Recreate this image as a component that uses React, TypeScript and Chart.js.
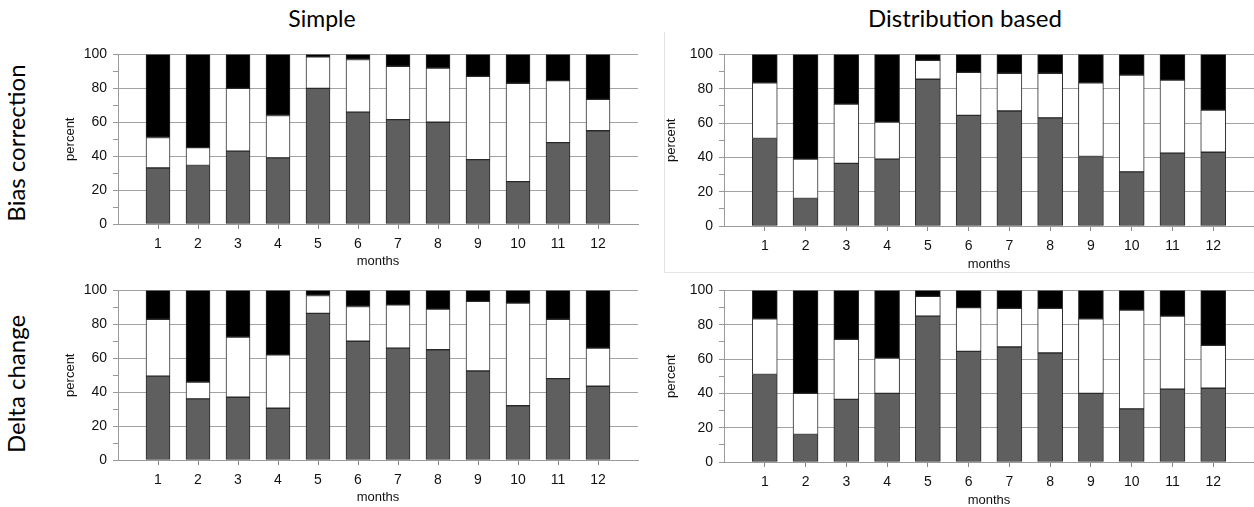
import React, { useEffect, useRef } from 'react';
import { Chart, registerables } from 'chart.js';

Chart.register(...registerables);

// ---- data (percent of months per class) ----
const months = [1, 2, 3, 4, 5, 6, 7, 8, 9, 10, 11, 12];
const percentTicks = [0, 20, 40, 60, 80, 100];

// Simple / Bias correction
const simpleBiasLow = [33, 34.5, 43, 39, 80, 66, 61.5, 60, 38, 25, 48, 55];
const simpleBiasMid = [18, 10.5, 37, 25, 18.5, 31, 31.5, 32, 49, 58, 36.5, 18.5];
const simpleBiasHigh = [49, 55, 20, 36, 1.5, 3, 7, 8, 13, 17, 15.5, 26.5];

// Distribution based / Bias correction
const distBiasLow = [51, 16, 36.5, 39, 85.5, 64.5, 67, 63, 40.5, 31.5, 42.5, 43];
const distBiasMid = [32.5, 23, 34.5, 21.5, 11, 25, 22, 26, 43, 56.5, 42.5, 24.5];
const distBiasHigh = [16.5, 61, 29, 39.5, 3.5, 10.5, 11, 11, 16.5, 12, 15, 32.5];

// Simple / Delta change
const simpleDeltaLow = [49.5, 36, 37, 30.5, 86.5, 70, 66, 65, 52.5, 32, 48, 43.5];
const simpleDeltaMid = [33.5, 10, 35.5, 31.5, 10.5, 20.5, 25.5, 24, 41, 60.5, 35, 22.5];
const simpleDeltaHigh = [17, 54, 27.5, 38, 3, 9.5, 8.5, 11, 6.5, 7.5, 17, 34];

// Distribution based / Delta change
const distDeltaLow = [51, 16, 36.5, 40, 85, 64.5, 67, 63.5, 40, 31, 42.5, 43];
const distDeltaMid = [32.5, 24, 35, 20.5, 11.5, 25.5, 22.5, 26, 43.5, 57.5, 42.5, 25];
const distDeltaHigh = [16.5, 60, 28.5, 39.5, 3.5, 10, 10.5, 10.5, 16.5, 11.5, 15, 32];

const AXIS_FONT = '"Liberation Sans", Arial, Helvetica, sans-serif';
const LABEL_FONT = 'Lato, "Open Sans", sans-serif';

type PanelProps = {
  left: number;
  top: number;
  width: number;
  height: number;
  padTop: number;
  padRight: number;
  yWidth: number;
  xHeight: number;
  barThickness: number;
  low: number[];
  mid: number[];
  high: number[];
};

function Panel(p: PanelProps) {
  const ref = useRef<HTMLCanvasElement | null>(null);

  useEffect(() => {
    if (!ref.current) return;
    const toPts = (arr: number[]) => months.map((m, i) => ({ x: m, y: arr[i] }));
    const common = {
      borderColor: '#2a2a2a',
      borderWidth: 1,
      borderSkipped: false as const,
      barThickness: p.barThickness,
    };
    const chart = new Chart(ref.current, {
      type: 'bar',
      data: {
        datasets: [
          { ...common, label: 'low', data: toPts(p.low), backgroundColor: '#5f5f5f' },
          { ...common, label: 'mid', data: toPts(p.mid), backgroundColor: '#ffffff' },
          { ...common, label: 'high', data: toPts(p.high), backgroundColor: '#000000' },
        ],
      },
      options: {
        responsive: false,
        maintainAspectRatio: false,
        animation: false,
        devicePixelRatio: 1,
        layout: { padding: { top: p.padTop, right: p.padRight, left: 0, bottom: 0 } },
        plugins: { legend: { display: false }, tooltip: { enabled: false } },
        scales: {
          x: {
            type: 'linear',
            min: 0,
            max: 13,
            stacked: true,
            offset: false,
            afterBuildTicks: (s: any) => {
              s.ticks = months.map((m) => ({ value: m }));
            },
            afterFit: (s: any) => {
              s.height = p.xHeight;
            },
            ticks: {
              stepSize: 1,
              autoSkip: false,
              maxRotation: 0,
              padding: 7,
              color: '#111',
              font: { family: AXIS_FONT, size: 14 },
            },
            grid: {
              offset: false,
              drawOnChartArea: false,
              drawTicks: true,
              tickLength: 5,
              tickColor: '#888',
            },
            border: { color: '#9a9a9a' },
            title: {
              display: true,
              text: 'months',
              color: '#111',
              padding: 0,
              font: { family: AXIS_FONT, size: 13 },
            },
          },
          y: {
            min: 0,
            max: 100,
            stacked: true,
            afterFit: (s: any) => {
              s.width = p.yWidth;
            },
            ticks: {
              stepSize: 10,
              autoSkip: false,
              padding: 6,
              color: '#111',
              font: { family: AXIS_FONT, size: 14 },
              callback: (v: any) => (percentTicks.includes(Number(v)) ? String(v) : ''),
            },
            grid: {
              drawTicks: true,
              tickLength: 5,
              tickColor: '#999',
              color: (ctx: any) =>
                ctx.tick && percentTicks.includes(ctx.tick.value) ? '#a3a3a3' : 'rgba(0,0,0,0)',
            },
            border: { color: '#9a9a9a' },
            title: {
              display: true,
              text: 'percent',
              color: '#111',
              padding: 0,
              font: { family: AXIS_FONT, size: 13 },
            },
          },
        },
      },
    });
    return () => chart.destroy();
  }, []);

  return (
    <canvas
      ref={ref}
      width={p.width}
      height={p.height}
      style={{ position: 'absolute', left: p.left, top: p.top, width: p.width, height: p.height }}
    />
  );
}

const textCenter = (x: number, y: number, rotate = 0): React.CSSProperties => ({
  position: 'absolute',
  left: x,
  top: y,
  transform: `translate(-50%, -50%) rotate(${rotate}deg)`,
  whiteSpace: 'nowrap',
  fontFamily: LABEL_FONT,
  color: '#000',
  lineHeight: 1,
});

export default function App() {
  return (
    <div
      style={{
        position: 'absolute',
        left: 0,
        top: 0,
        width: 1254,
        height: 507,
        overflow: 'hidden',
        background: '#fff',
      }}
    >
      <div
        style={{
          position: 'absolute',
          left: 664,
          top: 32,
          width: 590,
          height: 240,
          borderLeft: '1px solid #e4e4e4',
          borderBottom: '1px solid #e4e4e4',
        }}
      />
      <div style={{ ...textCenter(322, 18), fontSize: 23 }}>Simple</div>
      <div style={{ ...textCenter(965, 18), fontSize: 24 }}>Distribution based</div>
      <div style={{ ...textCenter(16, 143, -90), fontSize: 24 }}>Bias correction</div>
      <div style={{ ...textCenter(16, 384, -90), fontSize: 24 }}>Delta change</div>

      <Panel left={63} top={40} width={581} height={229} padTop={13} padRight={6} yWidth={55} xHeight={45}
        barThickness={24} low={simpleBiasLow} mid={simpleBiasMid} high={simpleBiasHigh} />
      <Panel left={664} top={40} width={590} height={232} padTop={10} padRight={0} yWidth={60} xHeight={46}
        barThickness={25} low={distBiasLow} mid={distBiasMid} high={distBiasHigh} />
      <Panel left={63} top={276} width={581} height={229} padTop={13} padRight={6} yWidth={55} xHeight={45}
        barThickness={24} low={simpleDeltaLow} mid={simpleDeltaMid} high={simpleDeltaHigh} />
      <Panel left={664} top={276} width={590} height={232} padTop={10} padRight={0} yWidth={60} xHeight={46}
        barThickness={25} low={distDeltaLow} mid={distDeltaMid} high={distDeltaHigh} />
    </div>
  );
}
